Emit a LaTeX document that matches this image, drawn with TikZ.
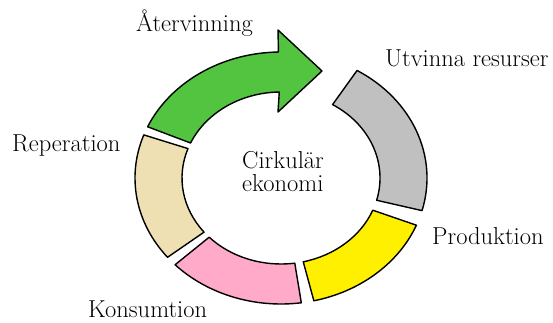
\documentclass[tikz,border=0pt]{standalone}
\usepackage{fontspec}
\usepackage{tikz}

\definecolor{ceGreen}{RGB}{82,196,64}
\definecolor{ceGray}{RGB}{192,192,192}
\definecolor{ceYellow}{RGB}{255,240,0}
\definecolor{cePink}{RGB}{255,170,200}
\definecolor{ceBeige}{RGB}{238,224,178}

\begin{document}
\begin{tikzpicture}[x=1pt, y=1pt,
    seg/.style={draw, line width=1.4pt, line join=round},
    lbl/.style={font=\fontsize{24.5}{20}\selectfont, inner sep=0pt, anchor=base west}]
    \useasboundingbox (0,0) rectangle (553,322);

    % ring segments around the centre
    \begin{scope}[shift={(281,144)}]
        \foreach \s/\e/\col in {-15/58.6/ceGray, -77/-22/ceYellow, -136.5/-82/cePink, 160/219/ceBeige}
            \draw[seg, fill=\col] (\s:146 and 126)
                arc[start angle=\s, end angle=\e, x radius=146, y radius=126]
                -- (\e:99 and 86)
                arc[start angle=\e, end angle=\s, x radius=99, y radius=86] -- cycle;

        % the curved arrow
        \draw[seg, fill=ceGreen] (156:146 and 126)
            arc[start angle=156, end angle=91, x radius=146, y radius=126]
            -- (-3,148) -- (41,107) -- (-3,66) -- (91:99 and 86)
            arc[start angle=91, end angle=156, x radius=99, y radius=86] -- cycle;
    \end{scope}

    \node[lbl] (atervinning) at (136,290) {Återvinning};
    \node[lbl] (utvinna) at (385,255) {Utvinna resurser};
    \node[lbl] (produktion) at (432,78) {Produktion};
    \node[lbl] (reperation) at (12,171) {Reperation};
    \node[lbl] (konsumtion) at (88,5) {Konsumtion};
    \node[lbl, align=left] (center) at (242,131) {Cirkulär\\[3pt]ekonomi};
\end{tikzpicture}
\end{document}
